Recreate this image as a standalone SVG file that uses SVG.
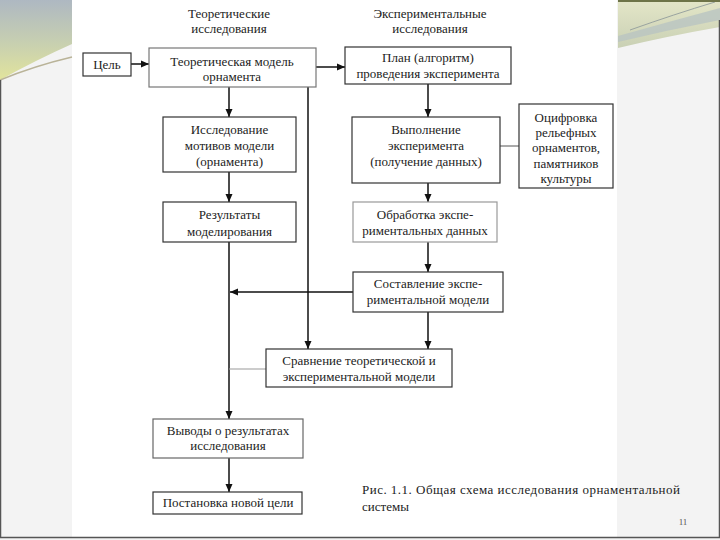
<svg xmlns="http://www.w3.org/2000/svg" width="720" height="540" viewBox="0 0 720 540">
<defs>
<linearGradient id="gl" x1="0" y1="0" x2="0" y2="1">
<stop offset="0" stop-color="#aeb8c2"/>
<stop offset="0.55" stop-color="#c8d0b0"/>
<stop offset="1" stop-color="#e2e49c"/>
</linearGradient>
<linearGradient id="gr" x1="0" y1="0" x2="0" y2="1">
<stop offset="0" stop-color="#e4e6c8"/>
<stop offset="1" stop-color="#c9d0b4"/>
</linearGradient>
<marker id="ah" markerUnits="userSpaceOnUse" markerWidth="8" markerHeight="8" refX="8" refY="4" orient="auto">
<path d="M0,0.5 L8,4 L0,7.5 Z" fill="#111"/>
</marker>
<style>
.box{fill:#fff;stroke:#333;stroke-width:1.2}
.lite{stroke:#999}
.t{font-family:"Liberation Serif","Times New Roman",serif;font-size:13px;fill:#222;text-anchor:middle}
.cap{font-family:"Liberation Serif","Times New Roman",serif;font-size:13px;fill:#222}
.c{stroke:#111;stroke-width:1.5;fill:none}
.ca{stroke:#111;stroke-width:1.5;fill:none;marker-end:url(#ah)}
</style>
</defs>
<rect x="0" y="0" width="720" height="540" fill="#f3f3f3"/>
<rect x="72" y="0" width="545" height="537" fill="#ffffff"/>
<g id="deco">
<path d="M0,0 H72 V44 Q36,60 0,80 Z" fill="url(#gl)"/>
<path d="M0,80 Q34,66 72,57" stroke="#b9b398" stroke-width="1.5" fill="none"/>
<path d="M618,0 H720 V27 Q668,36 618,48 Z" fill="url(#gr)"/>
<path d="M618,36 Q668,22 720,8 V20 Q668,30 618,42 Z" fill="#b9c4c2" opacity="0.8"/>
<path d="M630,30 Q675,14 715,2" stroke="#9aa4a0" stroke-width="1" fill="none"/>
<rect x="618" y="0" width="102" height="2" fill="#6e7448"/>
<path d="M0.5,80 V537.5 H719.5 V20" stroke="#555" stroke-width="1.5" fill="none"/>
</g>
<g id="headers">
<text class="t" x="229" y="18">Теоретические</text>
<text class="t" x="229" y="33">исследования</text>
<text class="t" x="430" y="18">Экспериментальные</text>
<text class="t" x="430" y="33">исследования</text>
</g>
<g id="connectors">
<line class="ca" x1="131" y1="64" x2="149" y2="64"/>
<line class="ca" x1="316" y1="67" x2="345" y2="67"/>
<line class="ca" x1="229" y1="87" x2="229" y2="117"/>
<line class="ca" x1="229" y1="172" x2="229" y2="202"/>
<line class="ca" x1="229" y1="242" x2="229" y2="419"/>
<line class="ca" x1="353" y1="292" x2="230" y2="292"/>
<line class="ca" x1="308" y1="87" x2="308" y2="349"/>
<line class="ca" x1="428" y1="312" x2="428" y2="349"/>
<line x1="229" y1="369" x2="266" y2="369" stroke="#999" stroke-width="1.2"/>
<line class="ca" x1="428" y1="84" x2="428" y2="117"/>
<line x1="500" y1="146" x2="519" y2="146" stroke="#555" stroke-width="1"/>
<line class="ca" x1="428" y1="183" x2="428" y2="202"/>
<line class="ca" x1="428" y1="242" x2="428" y2="272"/>
<line class="ca" x1="229" y1="458" x2="229" y2="492"/>
</g>
<g id="goal">
<rect class="box" x="83" y="53" width="48" height="23"/>
<text class="t" x="107" y="69">Цель</text>
</g>
<g id="theory">
<rect class="box" x="149" y="48" width="167" height="39" style="stroke:#777"/>
<text class="t" x="232" y="66">Теоретическая модель</text>
<text class="t" x="232" y="81">орнамента</text>
</g>
<g id="plan">
<rect class="box" x="345" y="47" width="166" height="37"/>
<text class="t" x="428" y="62">План (алгоритм)</text>
<text class="t" x="428" y="78">проведения эксперимента</text>
</g>
<g id="study">
<rect class="box" x="163" y="117" width="133" height="55"/>
<text class="t" x="229.5" y="134">Исследование</text>
<text class="t" x="229.5" y="150">мотивов модели</text>
<text class="t" x="229.5" y="166">(орнамента)</text>
</g>
<g id="exec">
<rect class="box" x="352" y="117" width="148" height="66"/>
<text class="t" x="426" y="134">Выполнение</text>
<text class="t" x="426" y="150">эксперимента</text>
<text class="t" x="426" y="166">(получение данных)</text>
</g>
<g id="digit">
<rect class="box" x="519" y="104" width="94" height="84"/>
<text class="t" x="566" y="122">Оцифровка</text>
<text class="t" x="566" y="137">рельефных</text>
<text class="t" x="566" y="152">орнаментов,</text>
<text class="t" x="566" y="168">памятников</text>
<text class="t" x="566" y="183">культуры</text>
</g>
<g id="results">
<rect class="box" x="163" y="202" width="133" height="40"/>
<text class="t" x="229.5" y="219">Результаты</text>
<text class="t" x="229.5" y="236">моделирования</text>
</g>
<g id="process">
<rect class="box lite" x="353" y="202" width="144" height="40"/>
<text class="t" x="425" y="219">Обработка экспе-</text>
<text class="t" x="425" y="235">риментальных данных</text>
</g>
<g id="compose">
<rect class="box" x="353" y="272" width="150" height="40"/>
<text class="t" x="428" y="288">Составление экспе-</text>
<text class="t" x="428" y="304">риментальной модели</text>
</g>
<g id="compare">
<rect class="box" x="266" y="349" width="186" height="38"/>
<text class="t" x="359" y="365">Сравнение теоретической и</text>
<text class="t" x="359" y="381">экспериментальной модели</text>
</g>
<g id="conclude">
<rect class="box" x="153" y="419" width="150" height="39" style="stroke:#666"/>
<text class="t" x="228" y="435">Выводы о результатах</text>
<text class="t" x="228" y="450">исследования</text>
</g>
<g id="newgoal">
<rect class="box" x="153" y="492" width="149" height="22"/>
<text class="t" x="228" y="507">Постановка новой цели</text>
</g>
<g id="caption">
<text class="cap" x="362" y="494" textLength="318" lengthAdjust="spacing">Рис. 1.1. Общая схема исследования орнаментальной</text>
<text class="cap" x="362" y="511">системы</text>
<text x="683" y="525" font-family="Liberation Serif, serif" font-size="9" fill="#555" text-anchor="middle">11</text>
</g>
</svg>
